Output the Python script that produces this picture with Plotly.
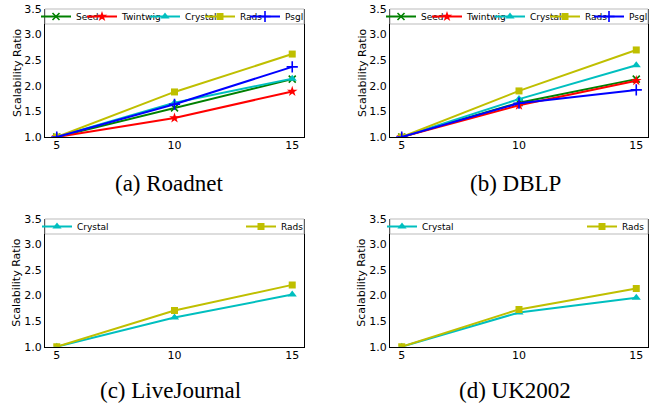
import plotly.graph_objects as go

W, H = 649, 406

# ---- data ----
sizes = [5, 10, 15]
y_ticks = [1.0, 1.5, 2.0, 2.5, 3.0, 3.5]
y_tick_labels = ["1.0", "1.5", "2.0", "2.5", "3.0", "3.5"]

roadnet_seed = [1.0, 1.57, 2.13]
roadnet_twintwig = [1.0, 1.37, 1.89]
roadnet_crystal = [1.0, 1.67, 2.14]
roadnet_rads = [1.0, 1.88, 2.62]
roadnet_psgl = [1.0, 1.64, 2.37]

dblp_seed = [1.0, 1.67, 2.13]
dblp_twintwig = [1.0, 1.62, 2.10]
dblp_crystal = [1.0, 1.74, 2.40]
dblp_rads = [1.0, 1.90, 2.70]
dblp_psgl = [1.0, 1.66, 1.92]

lj_crystal = [1.0, 1.57, 2.02]
lj_rads = [1.0, 1.71, 2.21]

uk_crystal = [1.0, 1.67, 1.96]
uk_rads = [1.0, 1.73, 2.14]

captions = ["(a) Roadnet", "(b) DBLP", "(c) LiveJournal", "(d) UK2002"]
y_title = "Scalability Ratio"

# ---- styles ----
STY = {
    "Seed": dict(color="#008000", symbol="x-thin", size=7, lw=1.6),
    "Twintwig": dict(color="#ff0000", symbol="star", size=8, lw=0),
    "Crystal": dict(color="#00bfbf", symbol="triangle-up", size=8, lw=0),
    "Rads": dict(color="#bfbf00", symbol="square", size=7, lw=0),
    "Psgl": dict(color="#0000ff", symbol="cross-thin", size=8, lw=1.6),
}

def px_x(p):
    return p / W

def px_y(p):
    return 1 - p / H

# panel geometry in pixels: (left, right, top, bottom)
panels = [
    (45, 304, 9, 137),
    (390, 648, 9, 137),
    (45, 304, 219, 346.7),
    (390, 648, 219, 346.7),
]
# legend marker offsets (px from the plot's left edge)
legend_offsets = [
    [11, 57, 120, 175, 220],
    [11, 57, 120, 175, 219],
    [12, 216],
    [12, 212],
]

series = [
    [("Seed", roadnet_seed), ("Twintwig", roadnet_twintwig), ("Crystal", roadnet_crystal),
     ("Rads", roadnet_rads), ("Psgl", roadnet_psgl)],
    [("Seed", dblp_seed), ("Twintwig", dblp_twintwig), ("Crystal", dblp_crystal),
     ("Rads", dblp_rads), ("Psgl", dblp_psgl)],
    [("Crystal", lj_crystal), ("Rads", lj_rads)],
    [("Crystal", uk_crystal), ("Rads", uk_rads)],
]

fig = go.Figure()
layout = dict(
    width=W, height=H, margin=dict(l=0, r=0, t=0, b=0, autoexpand=False),
    paper_bgcolor="white", plot_bgcolor="white", showlegend=True,
    font=dict(family="DejaVu Sans", size=11, color="black"),
)
shapes = []
annotations = []

caption_pos = [(169, 183), (515, 183), (170, 390), (515, 390)]
ytitle_x = [17, 362, 17, 362]

leg_count = 0
for i, (geo, ser) in enumerate(zip(panels, series)):
    n = "" if i == 0 else str(i + 1)
    l, r, t, b = geo
    xa, ya = "x" + n, "y" + n
    for j, (name, vals) in enumerate(ser):
        leg_count += 1
        lg = "legend" if leg_count == 1 else "legend" + str(leg_count)
        s = STY[name]
        mk = dict(symbol=s["symbol"], size=s["size"], color=s["color"])
        if s["lw"]:
            mk["line"] = dict(color=s["color"], width=s["lw"])
        fig.add_trace(go.Scatter(
            x=sizes, y=vals, name=name, mode="lines+markers",
            line=dict(color=s["color"], width=2), marker=mk,
            xaxis=xa, yaxis=ya, legend=lg,
        ))
        layout[lg] = dict(
            orientation="h", x=px_x(l + legend_offsets[i][j] - 20), xanchor="left",
            y=px_y(t + 7.5), yanchor="middle",
            bgcolor="rgba(0,0,0,0)", borderwidth=0, itemwidth=30,
            font=dict(family="DejaVu Sans", size=9, color="black"),
        )
    layout["xaxis" + n] = dict(
        domain=[px_x(l), px_x(r)], range=[4.5, 15.5], anchor=ya,
        tickvals=sizes, ticktext=[str(v) for v in sizes],
        showgrid=False, zeroline=False, showline=True, linecolor="black",
        linewidth=1, mirror=False, ticks="", ticklabelstandoff=-2,
        tickfont=dict(family="DejaVu Sans", size=11, color="black"),
    )
    layout["yaxis" + n] = dict(
        domain=[px_y(b), px_y(t)], range=[1.0, 3.5], anchor=xa,
        tickvals=y_ticks, ticktext=y_tick_labels,
        showgrid=False, zeroline=False, showline=True, linecolor="black",
        linewidth=1, mirror=True, ticks="",
        tickfont=dict(family="DejaVu Sans", size=11, color="black"),
    )
    # legend frame
    shapes.append(dict(
        type="rect", xref="paper", yref="paper",
        x0=px_x(l), x1=px_x(r), y0=px_y(t + 15), y1=px_y(t),
        fillcolor="white", line=dict(color="#bbbbbb", width=1), layer="above",
    ))
    annotations.append(dict(
        text=y_title, textangle=-90, xref="paper", yref="paper",
        x=px_x(ytitle_x[i]), y=px_y((t + b) / 2), xanchor="center", yanchor="middle",
        showarrow=False, font=dict(family="DejaVu Sans", size=11, color="black"),
    ))
    cx, cy = caption_pos[i]
    annotations.append(dict(
        text=captions[i], xref="paper", yref="paper",
        x=px_x(cx), y=px_y(cy), xanchor="center", yanchor="middle",
        showarrow=False, font=dict(family="Liberation Serif", size=23, color="black"),
    ))

layout["shapes"] = shapes
layout["annotations"] = annotations
fig.update_layout(**layout)
fig.write_html(
    "out.html",
    config={"displayModeBar": False},
    post_script="document.body.style.margin='0';document.body.style.overflow='hidden';",
)
